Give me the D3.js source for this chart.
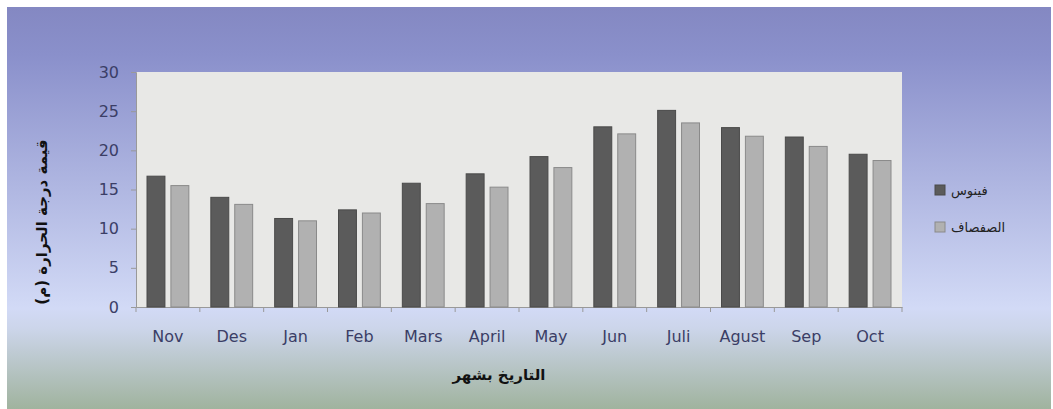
<!DOCTYPE html>
<html>
<head>
<meta charset="utf-8">
<script src="https://cdn.jsdelivr.net/npm/d3@7"></script>
<style>
  body { margin: 0; background: #fff; }
  svg { display: block; font-family: "DejaVu Sans", sans-serif; }
</style>
</head>
<body>
<svg id="chart" width="1053" height="409"></svg>
<script>
// chart data
const months = ["Nov", "Des", "Jan", "Feb", "Mars", "April", "May", "Jun", "Juli", "Agust", "Sep", "Oct"];
const seriesNames = ["فينوس", "الصفصاف"];
const station1 = [16.7, 14.0, 11.3, 12.4, 15.8, 17.0, 19.2, 23.0, 25.1, 22.9, 21.7, 19.5];
const station2 = [15.5, 13.1, 11.0, 12.0, 13.2, 15.3, 17.8, 22.1, 23.5, 21.8, 20.5, 18.7];
const yTicks = [0, 5, 10, 15, 20, 25, 30];

const svg = d3.select("#chart");

const padding = { top: 72, right: 151, bottom: 102, left: 136 };
const chartArea = {
    width: 1053 - padding.left - padding.right,
    height: 409 - padding.top - padding.bottom
};

// background gradient
const defs = svg.append("defs");
const bg = defs.append("linearGradient")
    .attr("id", "bg-gradient")
    .attr("gradientTransform", "rotate(90)");
bg.append("stop").attr("offset", "0%").attr("stop-color", "#8488c2");
bg.append("stop").attr("offset", "12%").attr("stop-color", "#8a90cb");
bg.append("stop").attr("offset", "75%").attr("stop-color", "#d2daf6");
bg.append("stop").attr("offset", "80%").attr("stop-color", "#ccd5ea");
bg.append("stop").attr("offset", "100%").attr("stop-color", "#a0b39e");

svg.append("rect")
    .attr("x", 7).attr("y", 7)
    .attr("width", 1044).attr("height", 402)
    .style("fill", "url(#bg-gradient)");

const g = svg.append("g")
    .attr("transform", `translate(${padding.left},${padding.top})`);

// plot area
g.append("rect")
    .attr("width", chartArea.width)
    .attr("height", chartArea.height)
    .attr("fill", "#e8e8e6");

// scales
const yScale = d3.scaleLinear()
    .domain([0, 30])
    .range([chartArea.height, 0]);

const xScale = d3.scaleBand()
    .domain(months)
    .range([0, chartArea.width])
    .paddingInner(0)
    .paddingOuter(0);

const inner = d3.scaleBand()
    .domain([0, 1])
    .range([11, xScale.bandwidth() - 11])
    .paddingInner(0.25);

const data = months.map((m, i) => ({ month: m, values: [station1[i], station2[i]] }));
const fills = ["#5b5b5b", "#b1b1b1"];
const strokes = ["#4a4a4a", "#8a8a8a"];

// y axis
const yAxis = g.append("g")
    .call(d3.axisLeft(yScale).tickValues(yTicks).tickSize(5).tickPadding(12));
yAxis.select(".domain").attr("stroke", "#999");
yAxis.selectAll(".tick line").attr("stroke", "#999");
yAxis.selectAll("text")
    .attr("fill", "#3b3e66")
    .style("font-family", "'DejaVu Sans', sans-serif")
    .style("font-size", "16px");

// x axis
const xAxis = g.append("g")
    .attr("transform", `translate(0,${chartArea.height})`)
    .call(d3.axisBottom(xScale).tickSize(0).tickPadding(24));
xAxis.select(".domain").attr("stroke", "#999");
xAxis.selectAll("text")
    .attr("fill", "#3b3e66")
    .style("font-family", "'DejaVu Sans', sans-serif")
    .style("font-size", "16px");

// tick marks between categories
g.append("g")
    .selectAll("line")
    .data(d3.range(months.length + 1))
    .enter().append("line")
    .attr("x1", i => i * xScale.step())
    .attr("x2", i => i * xScale.step())
    .attr("y1", chartArea.height)
    .attr("y2", chartArea.height + 5)
    .attr("stroke", "#999");

// bars
const groups = g.selectAll(".month")
    .data(data)
    .enter().append("g")
    .attr("class", "month")
    .attr("transform", d => `translate(${xScale(d.month)},0)`);

groups.selectAll("rect")
    .data(d => d.values)
    .enter().append("rect")
    .attr("x", (d, i) => inner(i))
    .attr("width", inner.bandwidth())
    .attr("y", d => yScale(d))
    .attr("height", d => chartArea.height - yScale(d))
    .attr("fill", (d, i) => fills[i])
    .attr("stroke", (d, i) => strokes[i])
    .attr("stroke-width", 1);

// axis titles
svg.append("text")
    .attr("transform", "translate(47,222) rotate(-90)")
    .attr("text-anchor", "middle")
    .attr("fill", "#111")
    .style("font-size", "15px")
    .style("font-weight", "bold")
    .text("قيمة درجة الحرارة (م)");

svg.append("text")
    .attr("x", padding.left + chartArea.width / 2 - 20)
    .attr("y", 380)
    .attr("text-anchor", "middle")
    .attr("fill", "#111")
    .style("font-size", "15px")
    .style("font-weight", "bold")
    .text("التاريخ بشهر");

// legend
const legend = svg.append("g")
    .attr("transform", "translate(935,185)");
seriesNames.forEach((name, i) => {
    const row = legend.append("g").attr("transform", `translate(0,${i * 37})`);
    row.append("rect")
        .attr("width", 10).attr("height", 10)
        .attr("fill", fills[i])
        .attr("stroke", strokes[i]);
    row.append("text")
        .attr("x", 16).attr("y", 10)
        .attr("fill", "#222")
        .style("font-size", "13px")
        .text(name);
});
</script>
</body>
</html>
